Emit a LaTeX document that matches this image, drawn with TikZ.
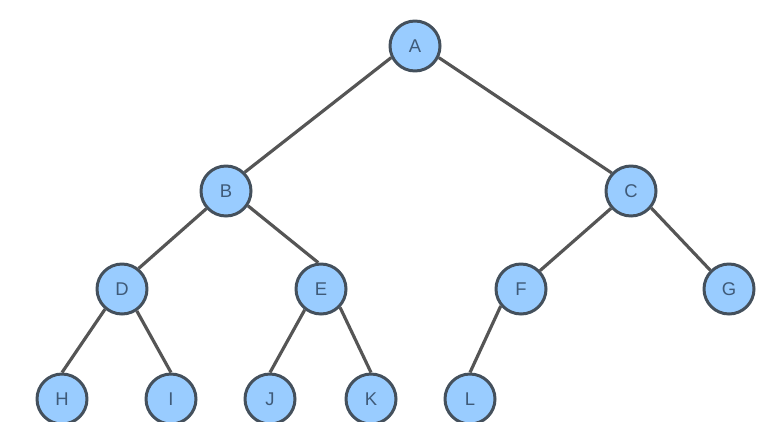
\documentclass[tikz,border=0pt]{standalone}
\usepackage{fontspec}
\setmainfont{Liberation Sans}
\usetikzlibrary{positioning}
\definecolor{nodefill}{HTML}{99CCFF}
\definecolor{nodeline}{HTML}{44505C}
\definecolor{edgeline}{HTML}{555555}
\definecolor{nodetext}{HTML}{3F5A78}
\tikzset{
    treenode/.style={circle,draw=nodeline,fill=nodefill,line width=1.7pt,
        minimum size=1.0cm,inner sep=0pt,text=nodetext,font=\fontsize{10.5}{12}\selectfont},
    treeedge/.style={draw=edgeline,line width=1.8pt}
}

\begin{document}
\begin{tikzpicture}[x=0.02cm,y=-0.02cm]
    \useasboundingbox (0,0) rectangle (783,426);
    \fill[white] (0,0) rectangle (783,426);
    \begin{scope}
    \clip (0,0) rectangle (783,421);
    \node[treenode] (A) at (415,46) {A};
    \node[treenode] (B) at (226,191) {B};
    \node[treenode] (C) at (631,191) {C};
    \node[treenode] (D) at (122,289) {D};
    \node[treenode] (E) at (321,289) {E};
    \node[treenode] (F) at (521,289) {F};
    \node[treenode] (G) at (729,289) {G};
    \node[treenode] (H) at (62,399) {H};
    \node[treenode] (I) at (171,399) {I};
    \node[treenode] (J) at (270,399) {J};
    \node[treenode] (K) at (371,399) {K};
    \node[treenode] (L) at (470,399) {L};
    \draw[treeedge] (A.206) -- (B.45);
    \draw[treeedge] (A.334) -- (C.137);
    \draw[treeedge] (B.222) -- (D.51);
    \draw[treeedge] (B.326) -- (E.96);
    \draw[treeedge] (C.221) -- (F.44);
    \draw[treeedge] (C.320) -- (G.135);
    \draw[treeedge] (D.230) -- (H.north);
    \draw[treeedge] (D.304) -- (I.north);
    \draw[treeedge] (E.232) -- (J.north);
    \draw[treeedge] (E.316) -- (K.north);
    \draw[treeedge] (F.220) -- (L.north);
    \end{scope}
\end{tikzpicture}
\end{document}
